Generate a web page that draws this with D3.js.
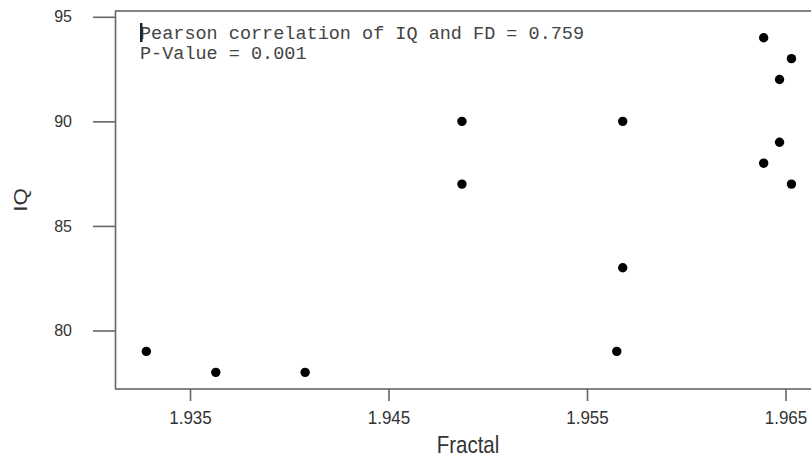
<!DOCTYPE html>
<html><head><meta charset="utf-8">
<script src="https://cdn.jsdelivr.net/npm/d3@7"></script>
<style>
html,body{margin:0;padding:0;background:#fff;}
svg{display:block;}
</style></head>
<body>
<svg id="chart" width="811" height="458"></svg>
<script>
const fractal = [1.9328, 1.9363, 1.9408, 1.9487, 1.9487, 1.9568, 1.9568, 1.9565, 1.9639, 1.9653, 1.9647, 1.9647, 1.9639, 1.9653];
const iq      = [79, 78, 78, 90, 87, 90, 83, 79, 94, 93, 92, 89, 88, 87];
const xTicks = [1.935, 1.945, 1.955, 1.965];
const yTicks = [80, 85, 90, 95];
const annotation = ["Pearson correlation of IQ and FD = 0.759", "P-Value = 0.001"];
const xTitle = "Fractal", yTitle = "IQ";

const svg = d3.select("#chart");
const x = d3.scaleLinear().domain([1.935, 1.965]).range([190, 785.5]);
const y = d3.scaleLinear().domain([80, 95]).range([330.5, 16.8]);
const box = {left: 115.5, top: 11, bottom: 389, right: 830};
const sans = "Liberation Sans, Arial, sans-serif";

// frame
svg.append("rect").attr("x", box.left).attr("y", box.top)
  .attr("width", box.right - box.left).attr("height", box.bottom - box.top)
  .attr("fill", "none").attr("stroke", "#666").attr("stroke-width", 1.6);

// y axis
const ya = svg.append("g").attr("transform", `translate(${box.left},0)`)
  .call(d3.axisLeft(y).tickValues(yTicks).tickSize(22.5).tickPadding(21).tickFormat(d3.format("d")));
ya.select(".domain").remove();
ya.selectAll("line").attr("stroke", "#666").attr("stroke-width", 1.6);
ya.selectAll("text").attr("font-family", sans).attr("font-size", 16).attr("fill", "#333");

// x axis
const xa = svg.append("g").attr("transform", `translate(0,${box.bottom})`)
  .call(d3.axisBottom(x).tickValues(xTicks).tickSize(12).tickPadding(17).tickFormat(d3.format(".3f")));
xa.select(".domain").remove();
xa.selectAll("line").attr("stroke", "#666").attr("stroke-width", 1.6);
xa.selectAll("text").attr("font-family", sans).attr("font-size", 17).attr("fill", "#333")
  .attr("dy", 0).attr("transform", "scale(1,1.05)").attr("y", 35.5 / 1.05);

// titles
svg.append("text").attr("transform", "translate(468,452.5) scale(1,1.15)").attr("text-anchor", "middle")
  .attr("font-family", sans).attr("font-size", 20.5).attr("fill", "#333").text(xTitle);
svg.append("text").attr("transform", "translate(26.7,200) rotate(-90) scale(1.2,1)").attr("text-anchor", "middle")
  .attr("font-family", sans).attr("font-size", 18.6).attr("fill", "#333").text(yTitle);

// annotation
const ann = svg.append("g");
annotation.forEach((t, i) => {
  ann.append("text").attr("x", 140).attr("y", 38.5 + i * 20)
    .attr("font-family", "Liberation Mono, Courier New, monospace").attr("font-size", 18.5)
    .attr("fill", "#444").text(t);
});
// text cursor
ann.append("rect").attr("x", 140).attr("y", 23).attr("width", 2.5).attr("height", 19).attr("fill", "#222");

// points
const pts = fractal.map((f, i) => ({f, q: iq[i]}));
svg.append("g").selectAll("circle").data(pts).join("circle")
  .attr("cx", d => x(d.f)).attr("cy", d => y(d.q)).attr("r", 4.7).attr("fill", "#000");
</script>
</body></html>
